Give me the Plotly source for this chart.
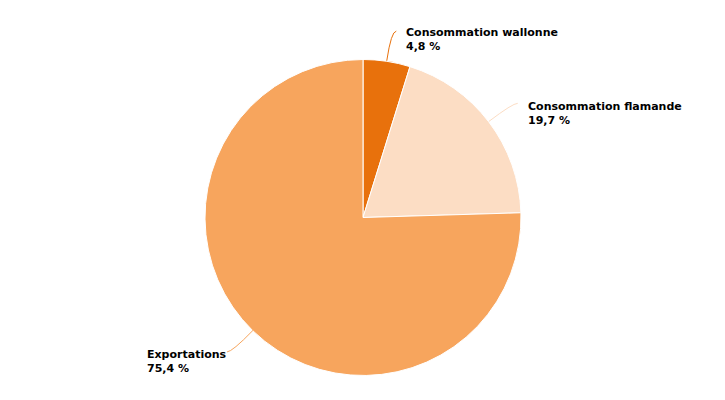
import math
import plotly.graph_objects as go

labels = ["Consommation wallonne", "Consommation flamande", "Exportations"]
values = [4.8, 19.7, 75.4]
value_text = ["4,8 %", "19,7 %", "75,4 %"]
colors = ["#E8710C", "#FCDDC4", "#F7A55D"]

W, H = 725, 400
cx, cy, R = 363, 217, 158  # pixel geometry of the pie
dom_x = [(cx - R) / W, (cx + R) / W]
dom_y = [1 - (cy + R + 1) / H, 1 - (cy - R) / H]

fig = go.Figure(go.Pie(
    labels=labels, values=values, sort=False, direction="clockwise", rotation=0,
    marker=dict(colors=colors, line=dict(color="white", width=1)),
    textinfo="none", hoverinfo="label+percent",
    domain=dict(x=dom_x, y=dom_y),
))

def px(x, y):
    return x / W, 1 - y / H

total = sum(values)
cum = 0
shapes, annotations = [], []
for lab, v, vt, col in zip(labels, values, value_text, colors):
    mid = (cum + v / 2) / total * 2 * math.pi
    cum += v
    s, c = math.sin(mid), math.cos(mid)
    ex, ey = cx + R * s, cy - R * c
    ox, oy = cx + (R + 30) * s, cy - (R + 30) * c
    right = s >= 0
    hx = ox + (5 if right else -5)
    p0, p1, p2 = px(ex, ey), px(ox, oy), px(hx, oy)
    shapes.append(dict(type="path", xref="paper", yref="paper",
                       path=f"M {p0[0]},{p0[1]} Q {p1[0]},{p1[1]} {p2[0]},{p2[1]}",
                       line=dict(color=col, width=1)))
    ax, ay = px(ox + (13 if right else -3), oy + (8 if c > 0.9 else 10))
    annotations.append(dict(
        x=ax, y=ay, xref="paper", yref="paper", showarrow=False,
        text=f"<b>{lab}<br>{vt}</b>", align="left",
        xanchor="left" if right else "right", yanchor="middle",
        font=dict(family="DejaVu Sans", size=11, color="#000000"),
    ))

fig.update_layout(
    width=W, height=H, margin=dict(l=0, r=0, t=0, b=0),
    paper_bgcolor="white", plot_bgcolor="white", showlegend=False,
    shapes=shapes, annotations=annotations,
)
fig.write_html("out.html")
